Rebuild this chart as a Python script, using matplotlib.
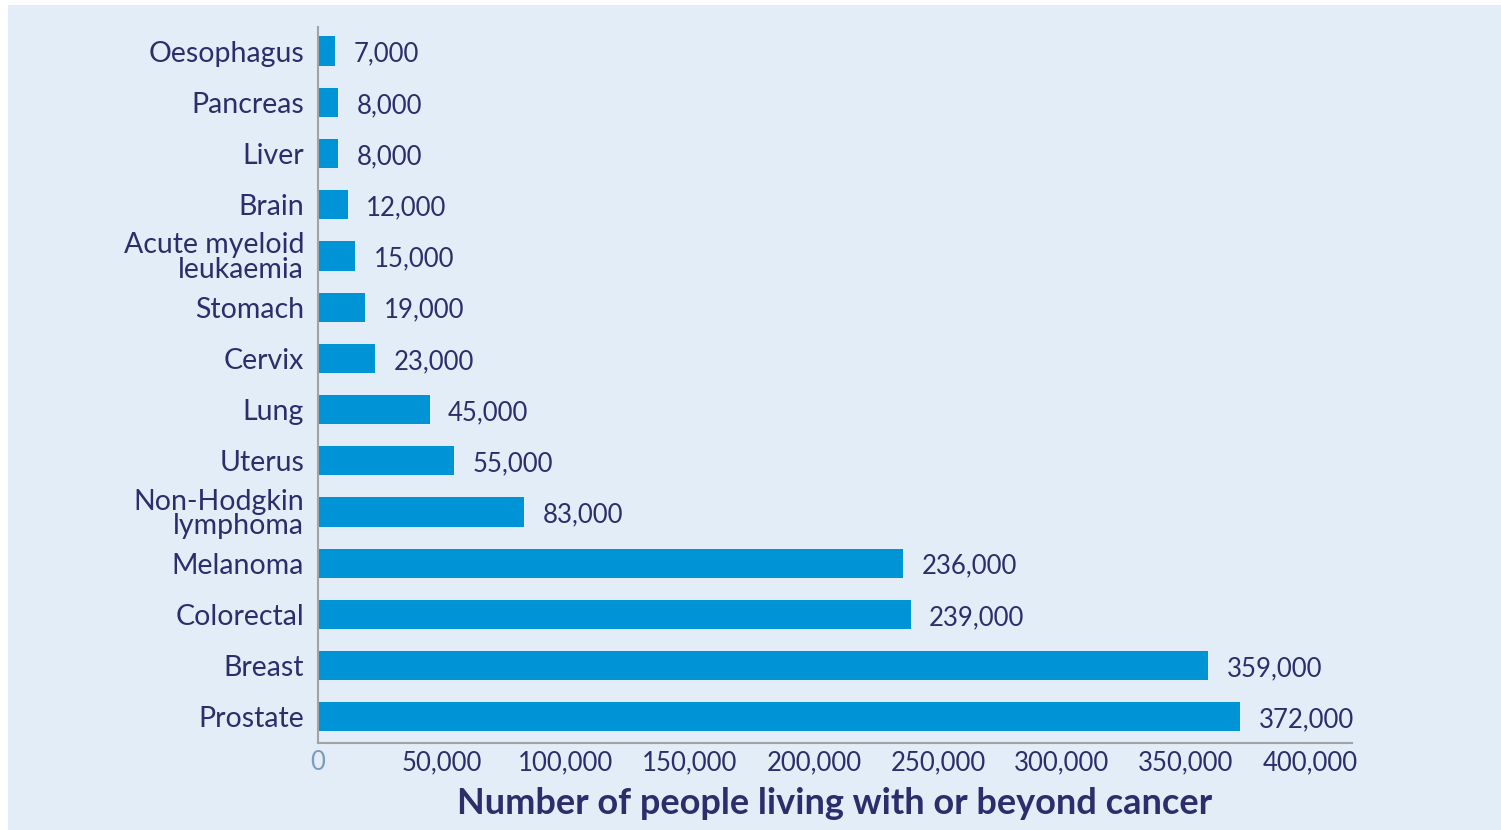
import matplotlib.pyplot as plt
from matplotlib.patches import Rectangle
from matplotlib.ticker import FuncFormatter

plt.rcParams['font.family'] = ['Lato', 'DejaVu Sans']

cancers = ['Oesophagus', 'Pancreas', 'Liver', 'Brain', 'Acute myeloid\nleukaemia',
           'Stomach', 'Cervix', 'Lung', 'Uterus', 'Non-Hodgkin\nlymphoma',
           'Melanoma', 'Colorectal', 'Breast', 'Prostate']
people = [7000, 8000, 8000, 12000, 15000, 19000, 23000, 45000, 55000, 83000,
          236000, 239000, 359000, 372000]
xticks = [0, 50000, 100000, 150000, 200000, 250000, 300000, 350000, 400000]

navy = '#2b2e6b'
bar_col = '#0093d5'
bg = '#e2edf8'

fig = plt.figure(figsize=(15.01, 8.30), dpi=100)
fig.patches.append(Rectangle((8 / 1501, 0), 1, 1 - 5 / 830, transform=fig.transFigure,
                             facecolor=bg, edgecolor='none', zorder=-10))
ax = fig.add_axes([318 / 1501, 1 - 743 / 830, (1352 - 318) / 1501, (743 - 27) / 830])
ax.set_facecolor('none')

ypos = list(range(len(cancers)))
ax.barh(ypos, people, height=0.57, color=bar_col)
for y, v in zip(ypos, people):
    ax.text(v + 7500, y + 0.06, f'{v:,}', va='center', ha='left', fontsize=18.5, color=navy)

ax.set_ylim(13.51, -0.47)
ax.set_xlim(0, 417000)
ax.set_yticks(ypos)
ax.set_yticklabels(cancers, fontsize=20.5, color=navy, linespacing=0.95)
ax.set_xticks(xticks)
ax.xaxis.set_major_formatter(FuncFormatter(lambda v, p: f'{int(v):,}'))
ax.tick_params(axis='both', length=0)
ax.tick_params(axis='x', labelsize=18.5, labelcolor=navy, pad=5)
ax.tick_params(axis='y', pad=10)
ax.get_xticklabels()[0].set_color('#7a9cc0')

for s in ['top', 'right']:
    ax.spines[s].set_visible(False)
for s in ['left', 'bottom']:
    ax.spines[s].set_color('#a0a4a8')
    ax.spines[s].set_linewidth(1.5)

ax.set_xlabel('Number of people living with or beyond cancer', fontsize=26,
              fontweight='bold', color=navy, labelpad=9)

fig.savefig('out.png', dpi=100)
